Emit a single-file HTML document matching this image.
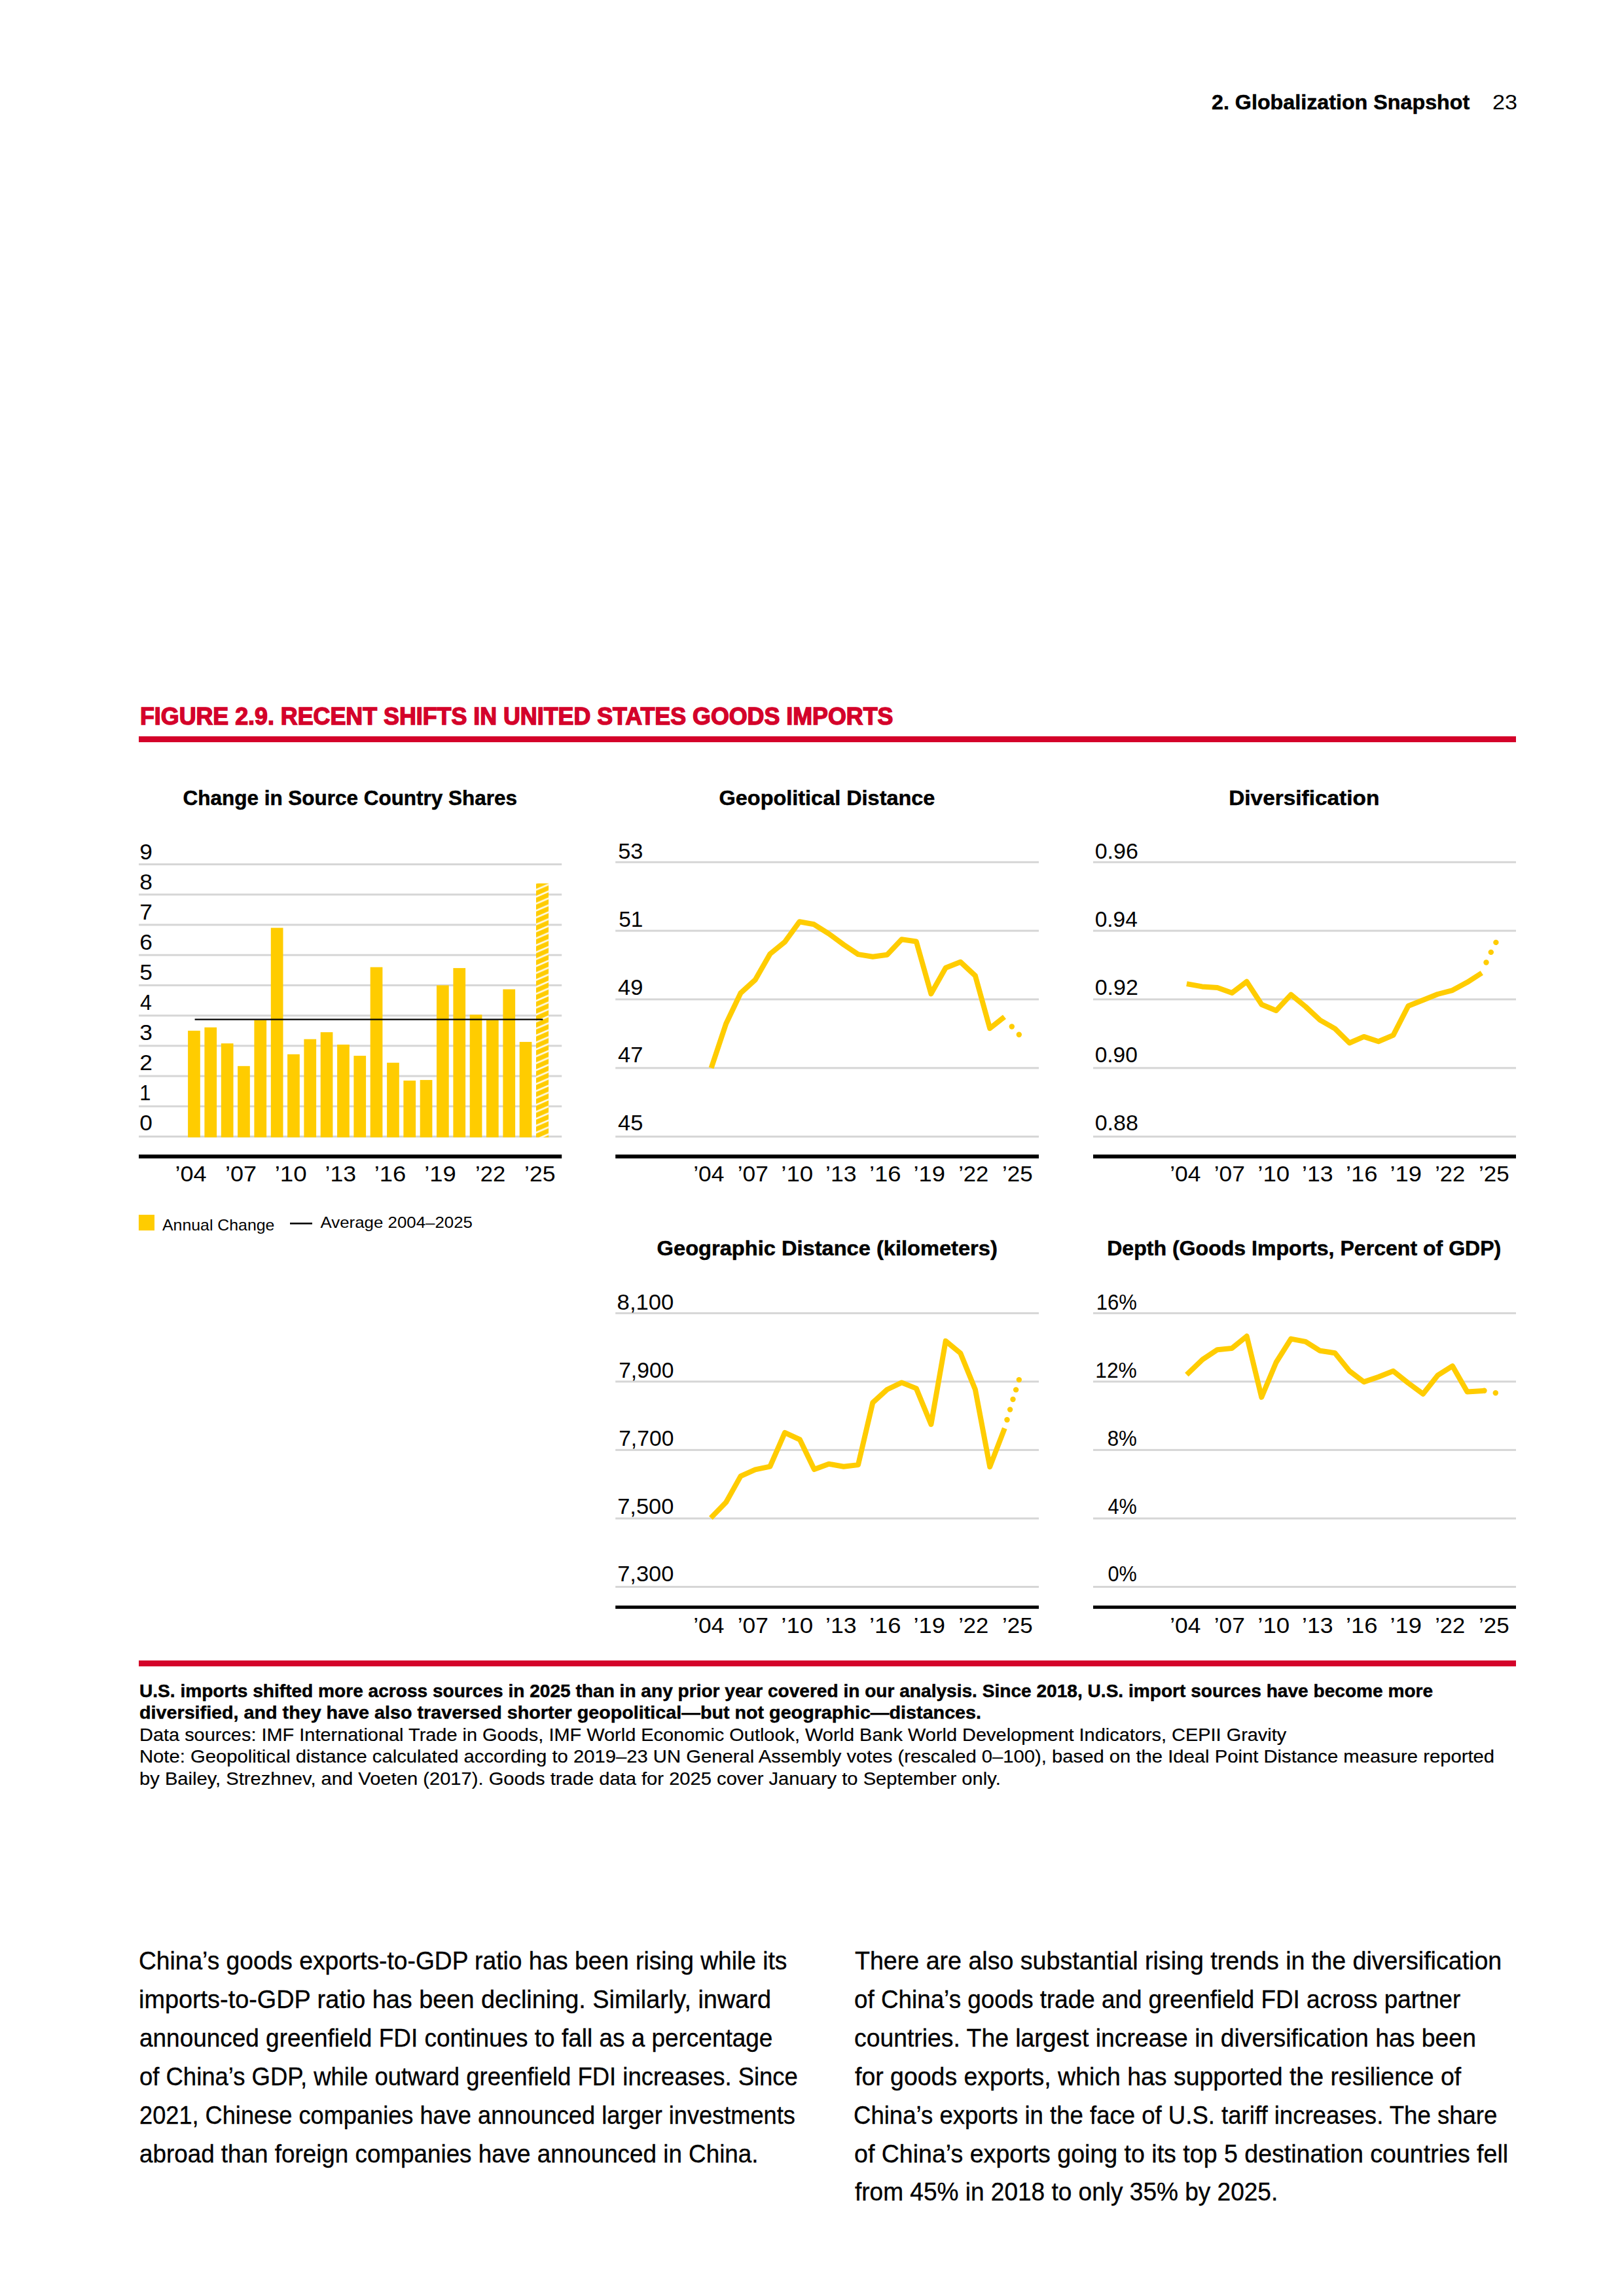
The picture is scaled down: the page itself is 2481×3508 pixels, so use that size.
<!DOCTYPE html>
<html lang="en">
<head>
<meta charset="utf-8">
<title>Figure 2.9. Recent Shifts in United States Goods Imports</title>
<style>
html,body{margin:0;padding:0;background:#fff;}
body{width:2481px;height:3508px;position:relative;overflow:hidden;font-family:"Liberation Sans",sans-serif;color:#000;}
.ln{position:absolute;white-space:nowrap;line-height:1;transform-origin:0 0;margin:0;}
.b{font-weight:700;}
.hd{font-size:31.6px;}
.hd.b{-webkit-text-stroke:0.5px #000;}
.ttl{font-size:37px;color:#D4022A;-webkit-text-stroke:1.5px #D4022A;}
.cap{font-size:27.5px;-webkit-text-stroke:0.2px #000;}
.cap.b{-webkit-text-stroke:0.45px #000;}
.bd{font-size:38px;-webkit-text-stroke:0.35px #000;}
.rule{position:absolute;left:212px;width:2104.3px;height:8.7px;background:#D4022A;}
svg{position:absolute;left:0;top:0;}
svg text{font-family:"Liberation Sans",sans-serif;}
svg text[font-weight="700"]{stroke:#000;stroke-width:0.5px;}
</style>
</head>
<body>
<svg width="2481" height="3508" viewBox="0 0 2481 3508">
<defs>
<pattern id="hatch" patternUnits="userSpaceOnUse" x="819" y="1350.6" width="19.1" height="10.6"><rect width="19.1" height="10.6" fill="#FFCC00"/><path d="M-1,9.3 L20.1,0.2 M-1,19.9 L20.1,10.8 M-1,-1.3 L20.1,-10.4" stroke="#fffae6" stroke-width="2.7" fill="none"/></pattern>
</defs>
<rect x="212.0" y="1735.0" width="646.2" height="3.0" fill="#d6d6d6"/>
<rect x="212.0" y="1688.8" width="646.2" height="3.0" fill="#d6d6d6"/>
<rect x="212.0" y="1642.6" width="646.2" height="3.0" fill="#d6d6d6"/>
<rect x="212.0" y="1596.4" width="646.2" height="3.0" fill="#d6d6d6"/>
<rect x="212.0" y="1550.2" width="646.2" height="3.0" fill="#d6d6d6"/>
<rect x="212.0" y="1503.9" width="646.2" height="3.0" fill="#d6d6d6"/>
<rect x="212.0" y="1457.7" width="646.2" height="3.0" fill="#d6d6d6"/>
<rect x="212.0" y="1411.5" width="646.2" height="3.0" fill="#d6d6d6"/>
<rect x="212.0" y="1365.3" width="646.2" height="3.0" fill="#d6d6d6"/>
<rect x="212.0" y="1319.1" width="646.2" height="3.0" fill="#d6d6d6"/>
<rect x="287.1" y="1574.8" width="18.7" height="162.9" fill="#FFCC00"/>
<rect x="312.4" y="1569.7" width="18.7" height="168.0" fill="#FFCC00"/>
<rect x="337.8" y="1594.2" width="18.7" height="143.5" fill="#FFCC00"/>
<rect x="363.1" y="1628.8" width="18.7" height="108.9" fill="#FFCC00"/>
<rect x="388.4" y="1558.6" width="18.7" height="179.1" fill="#FFCC00"/>
<rect x="413.8" y="1417.6" width="18.7" height="320.1" fill="#FFCC00"/>
<rect x="439.1" y="1610.8" width="18.7" height="126.9" fill="#FFCC00"/>
<rect x="464.4" y="1587.7" width="18.7" height="150.0" fill="#FFCC00"/>
<rect x="489.7" y="1577.1" width="18.7" height="160.6" fill="#FFCC00"/>
<rect x="515.1" y="1596.0" width="18.7" height="141.7" fill="#FFCC00"/>
<rect x="540.4" y="1613.1" width="18.7" height="124.6" fill="#FFCC00"/>
<rect x="565.7" y="1477.7" width="18.7" height="260.0" fill="#FFCC00"/>
<rect x="591.1" y="1623.7" width="18.7" height="114.0" fill="#FFCC00"/>
<rect x="616.4" y="1651.0" width="18.7" height="86.7" fill="#FFCC00"/>
<rect x="641.7" y="1650.1" width="18.7" height="87.6" fill="#FFCC00"/>
<rect x="667.0" y="1505.4" width="18.7" height="232.3" fill="#FFCC00"/>
<rect x="692.4" y="1479.1" width="18.7" height="258.6" fill="#FFCC00"/>
<rect x="717.7" y="1550.3" width="18.7" height="187.4" fill="#FFCC00"/>
<rect x="743.0" y="1558.6" width="18.7" height="179.1" fill="#FFCC00"/>
<rect x="768.4" y="1511.5" width="18.7" height="226.2" fill="#FFCC00"/>
<rect x="793.7" y="1591.9" width="18.7" height="145.8" fill="#FFCC00"/>
<rect x="819.0" y="1349.7" width="19.099999999999998" height="388.0" fill="url(#hatch)"/>
<rect x="297.6" y="1556.5" width="531.8" height="2.2" fill="#000"/>
<rect x="212.0" y="1764.0" width="646.2" height="5.9" fill="#000"/>
<text x="213.16" y="1727.0" font-size="32.4" font-weight="400" fill="#000" textLength="19.66" lengthAdjust="spacingAndGlyphs">0</text>
<text x="213.28" y="1681.0" font-size="32.4" font-weight="400" fill="#000" textLength="17.08" lengthAdjust="spacingAndGlyphs">1</text>
<text x="213.16" y="1635.0" font-size="32.4" font-weight="400" fill="#000" textLength="19.66" lengthAdjust="spacingAndGlyphs">2</text>
<text x="213.16" y="1589.0" font-size="32.4" font-weight="400" fill="#000" textLength="19.66" lengthAdjust="spacingAndGlyphs">3</text>
<text x="214.06" y="1543.0" font-size="32.4" font-weight="400" fill="#000" textLength="17.86" lengthAdjust="spacingAndGlyphs">4</text>
<text x="213.16" y="1497.1" font-size="32.4" font-weight="400" fill="#000" textLength="19.66" lengthAdjust="spacingAndGlyphs">5</text>
<text x="213.16" y="1451.1" font-size="32.4" font-weight="400" fill="#000" textLength="19.66" lengthAdjust="spacingAndGlyphs">6</text>
<text x="213.16" y="1405.1" font-size="32.4" font-weight="400" fill="#000" textLength="19.66" lengthAdjust="spacingAndGlyphs">7</text>
<text x="213.16" y="1359.1" font-size="32.4" font-weight="400" fill="#000" textLength="19.66" lengthAdjust="spacingAndGlyphs">8</text>
<text x="213.16" y="1313.1" font-size="32.4" font-weight="400" fill="#000" textLength="19.66" lengthAdjust="spacingAndGlyphs">9</text>
<text x="267.51" y="1805.0" font-size="32.6" font-weight="400" fill="#000" textLength="48.14" lengthAdjust="spacingAndGlyphs">’04</text>
<text x="344.12" y="1805.0" font-size="32.6" font-weight="400" fill="#000" textLength="48.02" lengthAdjust="spacingAndGlyphs">’07</text>
<text x="419.71" y="1805.0" font-size="32.6" font-weight="400" fill="#000" textLength="49.04" lengthAdjust="spacingAndGlyphs">’10</text>
<text x="496.56" y="1805.0" font-size="32.6" font-weight="400" fill="#000" textLength="47.56" lengthAdjust="spacingAndGlyphs">’13</text>
<text x="571.71" y="1805.0" font-size="32.6" font-weight="400" fill="#000" textLength="48.56" lengthAdjust="spacingAndGlyphs">’16</text>
<text x="648.26" y="1805.0" font-size="32.6" font-weight="400" fill="#000" textLength="48.56" lengthAdjust="spacingAndGlyphs">’19</text>
<text x="726.04" y="1805.0" font-size="32.6" font-weight="400" fill="#000" textLength="46.10" lengthAdjust="spacingAndGlyphs">’22</text>
<text x="800.98" y="1805.0" font-size="32.6" font-weight="400" fill="#000" textLength="47.52" lengthAdjust="spacingAndGlyphs">’25</text>
<rect x="211.9" y="1856" width="24.1" height="24" fill="#FFCC00"/>
<text x="248.04" y="1879.7" font-size="24" font-weight="400" fill="#000" textLength="171.34" lengthAdjust="spacingAndGlyphs">Annual Change</text>
<rect x="443.0" y="1868.0" width="34.0" height="2.6" fill="#000"/>
<text x="489.52" y="1875.7" font-size="24" font-weight="400" fill="#000" textLength="232.38" lengthAdjust="spacingAndGlyphs">Average 2004–2025</text>
<rect x="940.2" y="1315.8" width="646.8" height="3.0" fill="#d6d6d6"/>
<rect x="940.2" y="1420.6" width="646.8" height="3.0" fill="#d6d6d6"/>
<rect x="940.2" y="1525.4" width="646.8" height="3.0" fill="#d6d6d6"/>
<rect x="940.2" y="1630.3" width="646.8" height="3.0" fill="#d6d6d6"/>
<rect x="940.2" y="1735.1" width="646.8" height="3.0" fill="#d6d6d6"/>
<text x="944.18" y="1312.1" font-size="32.4" font-weight="400" fill="#000" textLength="38.18" lengthAdjust="spacingAndGlyphs">53</text>
<text x="945.16" y="1415.9" font-size="32.4" font-weight="400" fill="#000" textLength="37.20" lengthAdjust="spacingAndGlyphs">51</text>
<text x="944.08" y="1519.7" font-size="32.4" font-weight="400" fill="#000" textLength="38.28" lengthAdjust="spacingAndGlyphs">49</text>
<text x="944.08" y="1623.4" font-size="32.4" font-weight="400" fill="#000" textLength="38.28" lengthAdjust="spacingAndGlyphs">47</text>
<text x="944.06" y="1727.2" font-size="32.4" font-weight="400" fill="#000" textLength="38.30" lengthAdjust="spacingAndGlyphs">45</text>
<path d="M1086.6,1631.7 L1109.2,1563.9 L1131.5,1517.3 L1153.8,1497.0 L1176.4,1457.5 L1199.0,1439.2 L1221.3,1408.3 L1243.5,1412.3 L1266.2,1426.6 L1288.8,1443.2 L1311.0,1458.1 L1333.3,1461.8 L1355.3,1458.8 L1377.5,1435.2 L1399.8,1438.5 L1422.4,1518.3 L1444.7,1478.8 L1467.3,1469.8 L1489.9,1490.7 L1512.2,1571.2 L1534.5,1553.6" fill="none" stroke="#FFCC00" stroke-width="8" stroke-linejoin="round"/>
<circle cx="1545.8" cy="1568.5" r="4.2" fill="#FFCC00"/>
<circle cx="1556.8" cy="1580.8" r="4.2" fill="#FFCC00"/>
<rect x="940.2" y="1764.0" width="646.8" height="5.9" fill="#000"/>
<text x="1059.20" y="1805.0" font-size="32.6" font-weight="400" fill="#000" textLength="47.24" lengthAdjust="spacingAndGlyphs">’04</text>
<text x="1126.74" y="1805.0" font-size="32.6" font-weight="400" fill="#000" textLength="47.12" lengthAdjust="spacingAndGlyphs">’07</text>
<text x="1193.26" y="1805.0" font-size="32.6" font-weight="400" fill="#000" textLength="49.04" lengthAdjust="spacingAndGlyphs">’10</text>
<text x="1261.03" y="1805.0" font-size="32.6" font-weight="400" fill="#000" textLength="47.56" lengthAdjust="spacingAndGlyphs">’13</text>
<text x="1328.01" y="1805.0" font-size="32.6" font-weight="400" fill="#000" textLength="48.56" lengthAdjust="spacingAndGlyphs">’16</text>
<text x="1395.49" y="1805.0" font-size="32.6" font-weight="400" fill="#000" textLength="48.56" lengthAdjust="spacingAndGlyphs">’19</text>
<text x="1464.20" y="1805.0" font-size="32.6" font-weight="400" fill="#000" textLength="46.10" lengthAdjust="spacingAndGlyphs">’22</text>
<text x="1530.97" y="1805.0" font-size="32.6" font-weight="400" fill="#000" textLength="46.62" lengthAdjust="spacingAndGlyphs">’25</text>
<rect x="1670.0" y="1315.8" width="646.0" height="3.0" fill="#d6d6d6"/>
<rect x="1670.0" y="1420.6" width="646.0" height="3.0" fill="#d6d6d6"/>
<rect x="1670.0" y="1525.4" width="646.0" height="3.0" fill="#d6d6d6"/>
<rect x="1670.0" y="1630.3" width="646.0" height="3.0" fill="#d6d6d6"/>
<rect x="1670.0" y="1735.1" width="646.0" height="3.0" fill="#d6d6d6"/>
<text x="1672.66" y="1312.1" font-size="32.4" font-weight="400" fill="#000" textLength="66.14" lengthAdjust="spacingAndGlyphs">0.96</text>
<text x="1672.66" y="1415.9" font-size="32.4" font-weight="400" fill="#000" textLength="65.24" lengthAdjust="spacingAndGlyphs">0.94</text>
<text x="1672.66" y="1519.7" font-size="32.4" font-weight="400" fill="#000" textLength="66.14" lengthAdjust="spacingAndGlyphs">0.92</text>
<text x="1672.66" y="1623.4" font-size="32.4" font-weight="400" fill="#000" textLength="65.24" lengthAdjust="spacingAndGlyphs">0.90</text>
<text x="1672.66" y="1727.2" font-size="32.4" font-weight="400" fill="#000" textLength="66.14" lengthAdjust="spacingAndGlyphs">0.88</text>
<path d="M1812.9,1503.1 L1836.5,1507.4 L1859.8,1509.1 L1882.1,1517.0 L1904.7,1499.8 L1927.3,1534.7 L1949.6,1544.0 L1972.2,1519.7 L1994.5,1538.0 L2016.7,1558.6 L2039.4,1571.6 L2061.6,1593.5 L2083.6,1583.9 L2105.9,1591.2 L2128.5,1581.6 L2151.4,1537.0 L2174.0,1528.0 L2196.3,1519.0 L2218.9,1513.1 L2241.5,1500.8 L2263.8,1486.5" fill="none" stroke="#FFCC00" stroke-width="8" stroke-linejoin="round"/>
<circle cx="2270.5" cy="1470.5" r="4.2" fill="#FFCC00"/>
<circle cx="2277.8" cy="1454.9" r="4.2" fill="#FFCC00"/>
<circle cx="2285.4" cy="1439.9" r="4.2" fill="#FFCC00"/>
<rect x="1670.0" y="1764.0" width="646.0" height="5.9" fill="#000"/>
<text x="1787.20" y="1805.0" font-size="32.6" font-weight="400" fill="#000" textLength="47.24" lengthAdjust="spacingAndGlyphs">’04</text>
<text x="1854.74" y="1805.0" font-size="32.6" font-weight="400" fill="#000" textLength="47.12" lengthAdjust="spacingAndGlyphs">’07</text>
<text x="1921.26" y="1805.0" font-size="32.6" font-weight="400" fill="#000" textLength="49.04" lengthAdjust="spacingAndGlyphs">’10</text>
<text x="1989.03" y="1805.0" font-size="32.6" font-weight="400" fill="#000" textLength="47.56" lengthAdjust="spacingAndGlyphs">’13</text>
<text x="2056.01" y="1805.0" font-size="32.6" font-weight="400" fill="#000" textLength="48.56" lengthAdjust="spacingAndGlyphs">’16</text>
<text x="2123.49" y="1805.0" font-size="32.6" font-weight="400" fill="#000" textLength="48.56" lengthAdjust="spacingAndGlyphs">’19</text>
<text x="2192.20" y="1805.0" font-size="32.6" font-weight="400" fill="#000" textLength="46.10" lengthAdjust="spacingAndGlyphs">’22</text>
<text x="2258.97" y="1805.0" font-size="32.6" font-weight="400" fill="#000" textLength="46.62" lengthAdjust="spacingAndGlyphs">’25</text>
<rect x="940.2" y="2004.9" width="646.8" height="3.0" fill="#d6d6d6"/>
<rect x="940.2" y="2109.4" width="646.8" height="3.0" fill="#d6d6d6"/>
<rect x="940.2" y="2213.9" width="646.8" height="3.0" fill="#d6d6d6"/>
<rect x="940.2" y="2318.5" width="646.8" height="3.0" fill="#d6d6d6"/>
<rect x="940.2" y="2423.0" width="646.8" height="3.0" fill="#d6d6d6"/>
<text x="942.62" y="2001.0" font-size="32.4" font-weight="400" fill="#000" textLength="86.74" lengthAdjust="spacingAndGlyphs">8,100</text>
<text x="945.16" y="2104.8" font-size="32.4" font-weight="400" fill="#000" textLength="84.20" lengthAdjust="spacingAndGlyphs">7,900</text>
<text x="945.16" y="2208.7" font-size="32.4" font-weight="400" fill="#000" textLength="84.20" lengthAdjust="spacingAndGlyphs">7,700</text>
<text x="943.16" y="2312.5" font-size="32.4" font-weight="400" fill="#000" textLength="86.20" lengthAdjust="spacingAndGlyphs">7,500</text>
<text x="943.16" y="2416.3" font-size="32.4" font-weight="400" fill="#000" textLength="86.20" lengthAdjust="spacingAndGlyphs">7,300</text>
<path d="M1085.9,2319.2 L1109.2,2295.3 L1131.5,2255.4 L1153.8,2245.4 L1176.4,2240.7 L1199.0,2188.9 L1221.9,2199.5 L1243.9,2245.1 L1266.2,2236.7 L1288.8,2240.7 L1311.0,2238.1 L1333.3,2143.0 L1355.3,2123.0 L1377.5,2112.4 L1399.8,2121.4 L1422.4,2176.2 L1444.7,2048.9 L1467.3,2067.5 L1489.9,2123.0 L1512.2,2241.1 L1534.8,2182.2" fill="none" stroke="#FFCC00" stroke-width="8" stroke-linejoin="round"/>
<circle cx="1538.5" cy="2169.2" r="4.2" fill="#FFCC00"/>
<circle cx="1543.1" cy="2153.6" r="4.2" fill="#FFCC00"/>
<circle cx="1547.5" cy="2138.0" r="4.2" fill="#FFCC00"/>
<circle cx="1552.1" cy="2123.4" r="4.2" fill="#FFCC00"/>
<circle cx="1556.8" cy="2108.1" r="4.2" fill="#FFCC00"/>
<rect x="940.2" y="2453.1" width="646.8" height="5.0" fill="#000"/>
<text x="1059.20" y="2494.7" font-size="32.6" font-weight="400" fill="#000" textLength="47.24" lengthAdjust="spacingAndGlyphs">’04</text>
<text x="1126.74" y="2494.7" font-size="32.6" font-weight="400" fill="#000" textLength="47.12" lengthAdjust="spacingAndGlyphs">’07</text>
<text x="1193.26" y="2494.7" font-size="32.6" font-weight="400" fill="#000" textLength="49.04" lengthAdjust="spacingAndGlyphs">’10</text>
<text x="1261.03" y="2494.7" font-size="32.6" font-weight="400" fill="#000" textLength="47.56" lengthAdjust="spacingAndGlyphs">’13</text>
<text x="1328.01" y="2494.7" font-size="32.6" font-weight="400" fill="#000" textLength="48.56" lengthAdjust="spacingAndGlyphs">’16</text>
<text x="1395.49" y="2494.7" font-size="32.6" font-weight="400" fill="#000" textLength="48.56" lengthAdjust="spacingAndGlyphs">’19</text>
<text x="1464.20" y="2494.7" font-size="32.6" font-weight="400" fill="#000" textLength="46.10" lengthAdjust="spacingAndGlyphs">’22</text>
<text x="1530.97" y="2494.7" font-size="32.6" font-weight="400" fill="#000" textLength="46.62" lengthAdjust="spacingAndGlyphs">’25</text>
<rect x="1670.0" y="2004.9" width="646.0" height="3.0" fill="#d6d6d6"/>
<rect x="1670.0" y="2109.4" width="646.0" height="3.0" fill="#d6d6d6"/>
<rect x="1670.0" y="2213.9" width="646.0" height="3.0" fill="#d6d6d6"/>
<rect x="1670.0" y="2318.5" width="646.0" height="3.0" fill="#d6d6d6"/>
<rect x="1670.0" y="2423.0" width="646.0" height="3.0" fill="#d6d6d6"/>
<text x="1674.76" y="2001.0" font-size="32.4" font-weight="400" fill="#000" textLength="62.10" lengthAdjust="spacingAndGlyphs">16%</text>
<text x="1673.26" y="2104.8" font-size="32.4" font-weight="400" fill="#000" textLength="63.60" lengthAdjust="spacingAndGlyphs">12%</text>
<text x="1691.70" y="2208.7" font-size="32.4" font-weight="400" fill="#000" textLength="45.16" lengthAdjust="spacingAndGlyphs">8%</text>
<text x="1692.60" y="2312.5" font-size="32.4" font-weight="400" fill="#000" textLength="44.26" lengthAdjust="spacingAndGlyphs">4%</text>
<text x="1692.60" y="2416.3" font-size="32.4" font-weight="400" fill="#000" textLength="44.26" lengthAdjust="spacingAndGlyphs">0%</text>
<path d="M1812.9,2100.4 L1837.2,2077.1 L1859.8,2062.2 L1882.1,2059.9 L1904.7,2041.6 L1927.3,2134.7 L1949.6,2081.5 L1972.2,2045.6 L1994.5,2049.9 L2016.7,2063.8 L2039.4,2067.2 L2061.6,2094.8 L2083.6,2111.4 L2105.9,2103.7 L2128.5,2094.8 L2151.4,2113.1 L2174.0,2129.7 L2196.3,2101.4 L2218.9,2087.1 L2241.5,2126.4 L2266.1,2124.9" fill="none" stroke="#FFCC00" stroke-width="8" stroke-linejoin="round"/>
<circle cx="2267.5" cy="2124.8" r="4.2" fill="#FFCC00"/>
<circle cx="2284.8" cy="2128.3" r="4.2" fill="#FFCC00"/>
<rect x="1670.0" y="2453.1" width="646.0" height="5.0" fill="#000"/>
<text x="1787.20" y="2494.7" font-size="32.6" font-weight="400" fill="#000" textLength="47.24" lengthAdjust="spacingAndGlyphs">’04</text>
<text x="1854.74" y="2494.7" font-size="32.6" font-weight="400" fill="#000" textLength="47.12" lengthAdjust="spacingAndGlyphs">’07</text>
<text x="1921.26" y="2494.7" font-size="32.6" font-weight="400" fill="#000" textLength="49.04" lengthAdjust="spacingAndGlyphs">’10</text>
<text x="1989.03" y="2494.7" font-size="32.6" font-weight="400" fill="#000" textLength="47.56" lengthAdjust="spacingAndGlyphs">’13</text>
<text x="2056.01" y="2494.7" font-size="32.6" font-weight="400" fill="#000" textLength="48.56" lengthAdjust="spacingAndGlyphs">’16</text>
<text x="2123.49" y="2494.7" font-size="32.6" font-weight="400" fill="#000" textLength="48.56" lengthAdjust="spacingAndGlyphs">’19</text>
<text x="2192.20" y="2494.7" font-size="32.6" font-weight="400" fill="#000" textLength="46.10" lengthAdjust="spacingAndGlyphs">’22</text>
<text x="2258.97" y="2494.7" font-size="32.6" font-weight="400" fill="#000" textLength="46.62" lengthAdjust="spacingAndGlyphs">’25</text>
<text x="279.64" y="1229.9" font-size="31" font-weight="700" fill="#000" textLength="510.26" lengthAdjust="spacingAndGlyphs">Change in Source Country Shares</text>
<text x="1098.62" y="1230.2" font-size="31" font-weight="700" fill="#000" textLength="329.76" lengthAdjust="spacingAndGlyphs">Geopolitical Distance</text>
<text x="1877.22" y="1230.2" font-size="31" font-weight="700" fill="#000" textLength="230.08" lengthAdjust="spacingAndGlyphs">Diversification</text>
<text x="1003.64" y="1918.2" font-size="31" font-weight="700" fill="#000" textLength="520.18" lengthAdjust="spacingAndGlyphs">Geographic Distance (kilometers)</text>
<text x="1691.20" y="1918.2" font-size="31" font-weight="700" fill="#000" textLength="602.12" lengthAdjust="spacingAndGlyphs">Depth (Goods Imports, Percent of GDP)</text>
</svg>
<div class="rule" style="top:1125px"></div>
<div class="rule" style="top:2537px"></div>
<div class="ln hd b" id="t0" style="left:1851.0px;top:141.1px;transform:scaleX(1.0208)">2. Globalization Snapshot</div>
<div class="ln hd" id="t1" style="left:2279.5px;top:141.1px;transform:scaleX(1.0813)">23</div>
<div class="ln ttl b" id="t2" style="left:213.5px;top:1075.9px;transform:scaleX(0.9676)">FIGURE 2.9. RECENT SHIFTS IN UNITED STATES GOODS IMPORTS</div>
<div class="ln cap b" id="t3" style="left:213.0px;top:2569.6px;transform:scaleX(1.0213)">U.S. imports shifted more across sources in 2025 than in any prior year covered in our analysis. Since 2018, U.S. import sources have become more</div>
<div class="ln cap b" id="t4" style="left:213.0px;top:2603.1px;transform:scaleX(1.0441)">diversified, and they have also traversed shorter geopolitical—but not geographic—distances.</div>
<div class="ln cap" id="t5" style="left:213.0px;top:2636.6px;transform:scaleX(1.0518)">Data sources: IMF International Trade in Goods, IMF World Economic Outlook, World Bank World Development Indicators, CEPII Gravity</div>
<div class="ln cap" id="t6" style="left:213.0px;top:2670.1px;transform:scaleX(1.0629)">Note: Geopolitical distance calculated according to 2019–23 UN General Assembly votes (rescaled 0–100), based on the Ideal Point Distance measure reported</div>
<div class="ln cap" id="t7" style="left:213.0px;top:2703.6px;transform:scaleX(1.0600)">by Bailey, Strezhnev, and Voeten (2017). Goods trade data for 2025 cover January to September only.</div>
<div class="ln bd" id="t8" style="left:211.5px;top:2977.0px;transform:scaleX(0.9782)">China’s goods exports-to-GDP ratio has been rising while its</div>
<div class="ln bd" id="t9" style="left:211.5px;top:3035.9px;transform:scaleX(0.9957)">imports-to-GDP ratio has been declining. Similarly, inward</div>
<div class="ln bd" id="t10" style="left:212.5px;top:3094.8px;transform:scaleX(0.9722)">announced greenfield FDI continues to fall as a percentage</div>
<div class="ln bd" id="t11" style="left:212.5px;top:3153.7px;transform:scaleX(0.9595)">of China’s GDP, while outward greenfield FDI increases. Since</div>
<div class="ln bd" id="t12" style="left:212.5px;top:3212.6px;transform:scaleX(0.9523)">2021, Chinese companies have announced larger investments</div>
<div class="ln bd" id="t13" style="left:212.5px;top:3271.5px;transform:scaleX(0.9687)">abroad than foreign companies have announced in China.</div>
<div class="ln bd" id="t14" style="left:1305.5px;top:2977.0px;transform:scaleX(0.9892)">There are also substantial rising trends in the diversification</div>
<div class="ln bd" id="t15" style="left:1304.5px;top:3035.9px;transform:scaleX(0.9688)">of China’s goods trade and greenfield FDI across partner</div>
<div class="ln bd" id="t16" style="left:1304.5px;top:3094.8px;transform:scaleX(0.9826)">countries. The largest increase in diversification has been</div>
<div class="ln bd" id="t17" style="left:1305.5px;top:3153.7px;transform:scaleX(0.9853)">for goods exports, which has supported the resilience of</div>
<div class="ln bd" id="t18" style="left:1303.5px;top:3212.6px;transform:scaleX(0.9619)">China’s exports in the face of U.S. tariff increases. The share</div>
<div class="ln bd" id="t19" style="left:1304.5px;top:3271.5px;transform:scaleX(0.9881)">of China’s exports going to its top 5 destination countries fell</div>
<div class="ln bd" id="t20" style="left:1305.5px;top:3330.4px;transform:scaleX(0.9742)">from 45% in 2018 to only 35% by 2025.</div>
</body>
</html>
